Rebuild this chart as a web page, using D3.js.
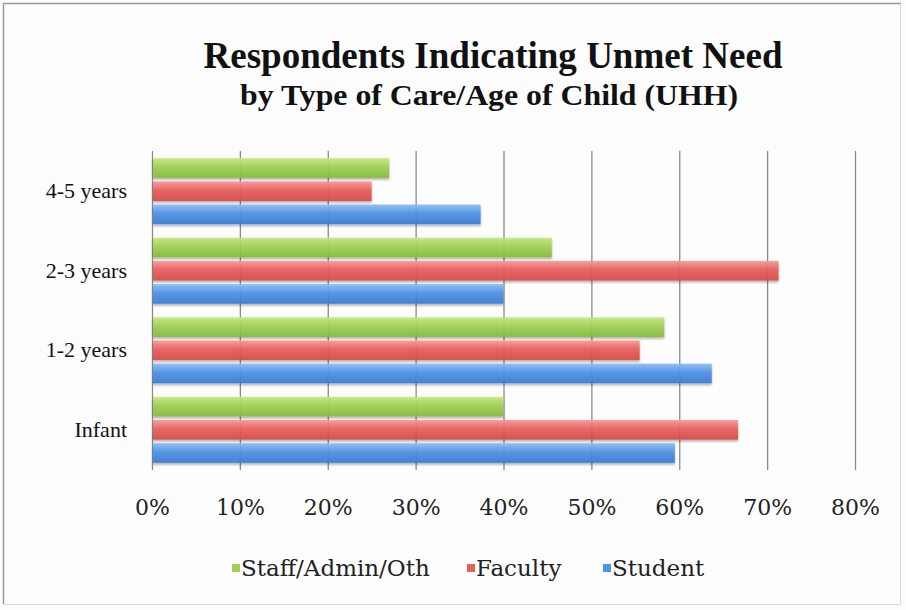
<!DOCTYPE html>
<html>
<head>
<meta charset="utf-8">
<script src="https://cdn.jsdelivr.net/npm/d3@7"></script>
<style>
  body { margin: 0; background: #fff; }
  svg { display: block; }
  .grid line { stroke: #8a8a8a; stroke-width: 1.3; }
  .grid .domain { display: none; }
  .xAxis text { font-family: 'DejaVu Serif', serif; font-size: 22px; fill: #222; }
  .yAxis text { font-family: 'Liberation Serif', 'Times New Roman', serif; font-size: 22px; fill: #111; }
  .legend text { font-family: 'DejaVu Serif', serif; font-size: 23px; fill: #222; }
</style>
</head>
<body>
<script>
// ==================== Data ============================
const categories = ['4-5 years', '2-3 years', '1-2 years', 'Infant'];
const seriesNames = ['Staff/Admin/Oth', 'Faculty', 'Student'];
const staffValues   = [0.27, 0.455, 0.583, 0.40];
const facultyValues = [0.25, 0.713, 0.555, 0.667];
const studentValues = [0.374, 0.40, 0.637, 0.595];
const tickValues = [0, 0.1, 0.2, 0.3, 0.4, 0.5, 0.6, 0.7, 0.8];

// ==================== Set up Variables ============================
const W = 906, H = 610;
const plot = {left: 152, right: 855, top: 151, bottom: 470};

const colors = {
  'Staff/Admin/Oth': ['#c4e882', '#9fd154', '#86bb3a'],
  'Faculty':         ['#f59a98', '#e8605e', '#d64a49'],
  'Student':         ['#8dbdf5', '#4f93e4', '#3a7dd1']
};

const x = d3.scaleLinear().domain([0, 0.8]).range([plot.left, plot.right]);

const y0 = d3.scaleBand()
    .domain(categories)
    .range([plot.top, plot.bottom])
    .paddingInner(0.17)
    .paddingOuter(0.09);

const y1 = d3.scaleBand()
    .domain(seriesNames)
    .range([0, y0.bandwidth()])
    .paddingInner(0.15);

const rows = categories.map((c, i) => ({
  category: c,
  values: [
    {series: 'Staff/Admin/Oth', value: staffValues[i]},
    {series: 'Faculty', value: facultyValues[i]},
    {series: 'Student', value: studentValues[i]}
  ]
}));

const svg = d3.select('body').append('svg')
    .attr('width', W)
    .attr('height', H);

// gradients + shadow
const defs = svg.append('defs');
seriesNames.forEach((s, i) => {
  const g = defs.append('linearGradient')
      .attr('id', 'grad' + i)
      .attr('x1', 0).attr('y1', 0).attr('x2', 0).attr('y2', 1);
  g.append('stop').attr('offset', '0%').attr('stop-color', colors[s][0]);
  g.append('stop').attr('offset', '45%').attr('stop-color', colors[s][1]);
  g.append('stop').attr('offset', '100%').attr('stop-color', colors[s][2]);
});
defs.append('filter')
    .attr('id', 'shadow')
    .attr('x', '-5%').attr('y', '-20%').attr('width', '110%').attr('height', '160%')
  .append('feDropShadow')
    .attr('dx', 0).attr('dy', 2).attr('stdDeviation', 1.2)
    .attr('flood-color', '#000').attr('flood-opacity', 0.3);

// background and frame
svg.append('rect')
    .attr('x', 0).attr('y', 0).attr('width', W).attr('height', H)
    .attr('fill', '#fdfdfd');
svg.append('rect')
    .attr('x', 3.5).attr('y', 3.5).attr('width', 897).attr('height', 601)
    .attr('fill', 'none').attr('stroke', '#d8d8d8');
svg.append('path')
    .attr('d', 'M3.5,604 V3.5 H901')
    .attr('fill', 'none').attr('stroke', '#9a9a9a').attr('stroke-width', 1.5);

// ==================== Title ============================
svg.append('text')
    .attr('x', 493).attr('y', 68)
    .attr('text-anchor', 'middle')
    .attr('textLength', 579).attr('lengthAdjust', 'spacingAndGlyphs')
    .style('font-family', "'Liberation Serif', 'Times New Roman', serif")
    .style('font-weight', 'bold').style('font-size', '38px').style('fill', '#111')
    .text('Respondents Indicating Unmet Need');

svg.append('text')
    .attr('x', 489).attr('y', 105)
    .attr('text-anchor', 'middle')
    .attr('textLength', 498).attr('lengthAdjust', 'spacingAndGlyphs')
    .style('font-family', "'Liberation Serif', 'Times New Roman', serif")
    .style('font-weight', 'bold').style('font-size', '30px').style('fill', '#111')
    .text('by Type of Care/Age of Child (UHH)');

// ==================== Grid & Axes ============================
svg.append('g')
    .attr('class', 'grid')
    .attr('transform', `translate(0, ${plot.bottom})`)
    .call(d3.axisBottom(x)
      .tickValues(tickValues)
      .tickSize(-(plot.bottom - plot.top))
      .tickFormat(''));

svg.append('g')
    .attr('class', 'xAxis')
    .attr('transform', `translate(0, ${plot.bottom})`)
    .call(d3.axisBottom(x)
      .tickValues(tickValues)
      .tickSize(0)
      .tickPadding(29)
      .tickFormat(d3.format('.0%')))
    .call(g => g.select('.domain').remove());

svg.append('g')
    .attr('class', 'yAxis')
    .attr('transform', `translate(${plot.left}, 0)`)
    .call(d3.axisLeft(y0).tickSize(0).tickPadding(25))
    .call(g => g.select('.domain').remove());

// ==================== Bars ============================
svg.append('g')
  .selectAll('g')
  .data(rows)
  .join('g')
    .attr('transform', d => `translate(0, ${y0(d.category)})`)
  .selectAll('rect')
  .data(d => d.values)
  .join('rect')
    .attr('x', x(0) + 1)
    .attr('y', d => y1(d.series))
    .attr('width', d => x(d.value) - x(0) - 1)
    .attr('height', y1.bandwidth())
    .attr('fill', d => `url(#grad${seriesNames.indexOf(d.series)})`)
    .attr('fill-opacity', 0.93)
    .attr('filter', 'url(#shadow)');

// ==================== Legend ============================
const legendX = [232, 467, 603];
const legend = svg.append('g').attr('class', 'legend');
seriesNames.forEach((s, i) => {
  legend.append('rect')
      .attr('x', legendX[i]).attr('y', 564)
      .attr('width', 8).attr('height', 8)
      .attr('fill', colors[s][1]);
  legend.append('text')
      .attr('x', legendX[i] + 9).attr('y', 576)
      .text(s);
});
</script>
</body>
</html>
